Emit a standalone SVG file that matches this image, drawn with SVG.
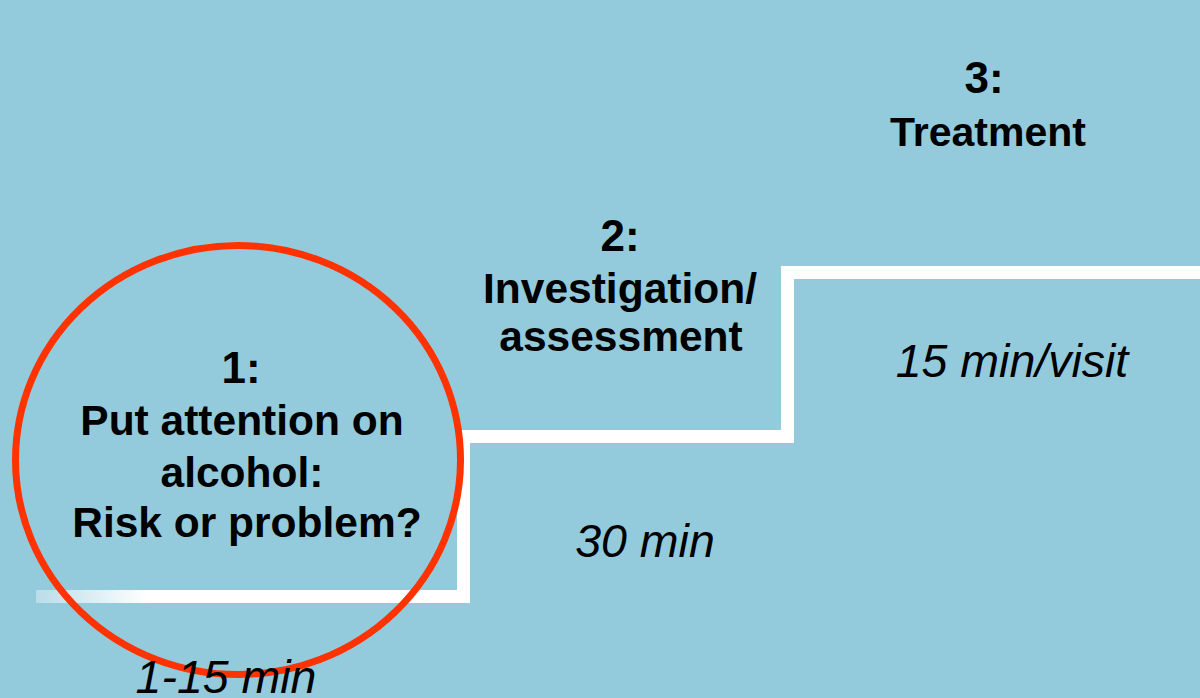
<svg xmlns="http://www.w3.org/2000/svg" width="1200" height="698" viewBox="0 0 1200 698">
  <style>
    .t { font-family: "Liberation Sans", Arial, sans-serif; font-weight: bold; fill: #000; text-anchor: middle; }
    .b { font-size: 42.5px; }
    .n { font-size: 44px; }
    .i { font-family: "Liberation Sans", Arial, sans-serif; font-style: italic; font-size: 46.5px; fill: #000; text-anchor: middle; }
    .w { fill: #ffffff; }
  </style>
  <defs>
    <linearGradient id="fade" x1="0" y1="0" x2="1" y2="0">
      <stop offset="0" stop-color="#ffffff" stop-opacity="0.35"/>
      <stop offset="1" stop-color="#ffffff" stop-opacity="1"/>
    </linearGradient>
  </defs>
  <rect x="0" y="0" width="1200" height="698" fill="#93CBDC"/>

  <g id="steps">
    <rect x="36" y="590" width="112" height="13" fill="url(#fade)"/>
    <rect class="w" x="147" y="590" width="323" height="13"/>
    <rect class="w" x="457" y="430" width="13" height="173"/>
    <rect class="w" x="469" y="430" width="325" height="13"/>
    <rect class="w" x="781" y="266" width="13" height="177"/>
    <rect class="w" x="793" y="266" width="407" height="13"/>
  </g>

  <g id="step1">
    <ellipse cx="238" cy="460" rx="222.5" ry="214.5" fill="none" stroke="#FF3300" stroke-width="7"/>
    <text class="t n" x="241" y="383">1:</text>
    <text class="t b" x="242" y="435">Put attention on</text>
    <text class="t b" x="242" y="487">alcohol:</text>
    <text class="t b" x="247" y="537">Risk or problem?</text>
  </g>

  <g id="step2">
    <text class="t n" x="620" y="251">2:</text>
    <text class="t b" x="620" y="303">Investigation/</text>
    <text class="t b" x="621" y="351">assessment</text>
  </g>

  <g id="step3">
    <text class="t n" x="984" y="93">3:</text>
    <text class="t b" x="988" y="146" style="font-size:41px">Treatment</text>
  </g>

  <g id="times">
    <text class="i" x="226" y="693">1-15 min</text>
    <text class="i" x="645" y="557">30 min</text>
    <text class="i" x="1012" y="377">15 min/visit</text>
  </g>
</svg>
